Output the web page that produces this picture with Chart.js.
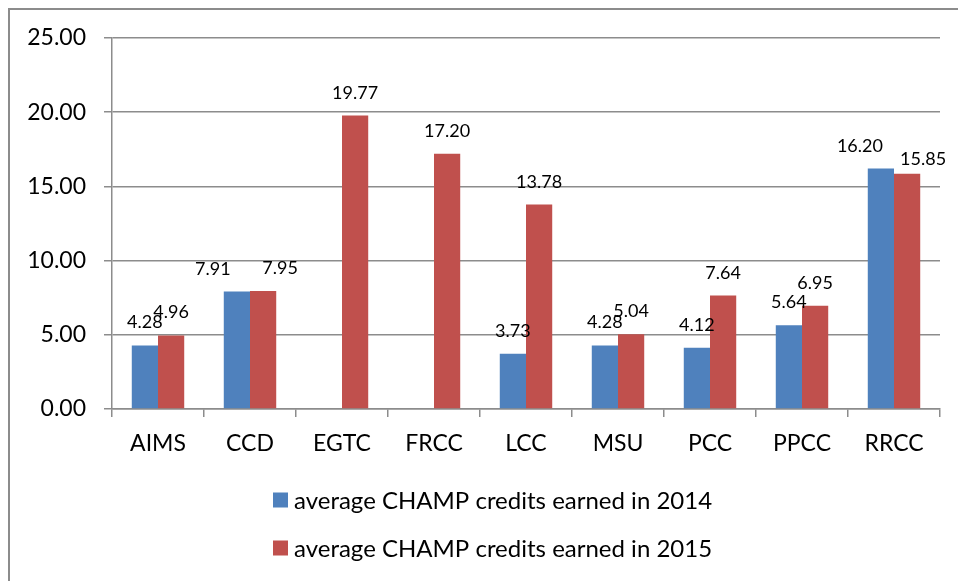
<!DOCTYPE html>
<html>
<head>
<meta charset="utf-8">
<script src="https://cdn.jsdelivr.net/npm/chart.js@4.4.0/dist/chart.umd.min.js"></script>
<style>
  body { margin: 0; background: #fff; }
  #wrap { width: 958px; height: 581px; }
</style>
</head>
<body>
<div id="wrap"><canvas id="credits" width="958" height="581"></canvas></div>
<script>
// colleges on the x axis
const colleges = ['AIMS', 'CCD', 'EGTC', 'FRCC', 'LCC', 'MSU', 'PCC', 'PPCC', 'RRCC'];
// average credits per year (null = no bar)
const credits2014 = [4.28, 7.91, null, null, 3.73, 4.28, 4.12, 5.64, 16.20];
const credits2015 = [4.96, 7.95, 19.77, 17.20, 13.78, 5.04, 7.64, 6.95, 15.85];
const seriesNames = ['average CHAMP credits earned in 2014', 'average CHAMP credits earned in 2015'];
const yTicks = [0, 5, 10, 15, 20, 25];

const fontName = 'Lato, "Open Sans", sans-serif';
const gray = '#8c8c8c';

// a few labels were dragged aside in the original, "dataset:index" -> [dx, dy]
const labelNudge = { '0:1': [-24, 0], '1:1': [17, 0], '0:8': [-21, 0], '1:8': [16, 8] };

// value labels above each bar
const valueLabels = {
  id: 'valueLabels',
  afterDatasetsDraw(chart) {
    const ctx = chart.ctx;
    ctx.save();
    ctx.font = '18px ' + fontName;
    ctx.fillStyle = '#000';
    ctx.textAlign = 'center';
    ctx.textBaseline = 'alphabetic';
    chart.data.datasets.forEach((ds, i) => {
      chart.getDatasetMeta(i).data.forEach((bar, j) => {
        const v = ds.data[j];
        if (v === null) return;
        const [dx, dy] = labelNudge[i + ':' + j] || [0, 0];
        ctx.fillText(v.toFixed(2), bar.x + dx, bar.y - 17 + dy);
      });
    });
    ctx.restore();
  }
};

// stacked legend below the axis + frame on left/top
const stackedLegend = {
  id: 'stackedLegend',
  afterDraw(chart) {
    const ctx = chart.ctx;
    ctx.save();
    ctx.strokeStyle = gray;
    ctx.lineWidth = 2;
    ctx.beginPath();
    ctx.moveTo(9, 581);
    ctx.lineTo(9, 9);
    ctx.lineTo(958, 9);
    ctx.stroke();

    ctx.font = '24px ' + fontName;
    ctx.textBaseline = 'middle';
    ctx.textAlign = 'left';
    const widths = chart.data.datasets.map(ds => ctx.measureText(ds.label).width);
    const blockW = 21 + Math.max(...widths);
    const left = Math.round(493 - blockW / 2);
    chart.data.datasets.forEach((ds, i) => {
      const cy = 500 + i * 48;
      ctx.fillStyle = ds.backgroundColor;
      ctx.fillRect(left, cy - 7.5, 15, 15);
      ctx.fillStyle = '#000';
      ctx.fillText(ds.label, left + 21, cy + 1);
    });
    ctx.restore();
  }
};

new Chart(document.getElementById('credits'), {
  type: 'bar',
  data: {
    labels: colleges,
    datasets: [
      { label: seriesNames[0], data: credits2014, backgroundColor: '#4F81BD' },
      { label: seriesNames[1], data: credits2015, backgroundColor: '#C0504D' }
    ]
  },
  options: {
    responsive: false,
    animation: false,
    layout: { padding: { left: 0, top: 38, right: 18, bottom: 112 } },
    datasets: { bar: { categoryPercentage: 0.57, barPercentage: 1.0 } },
    plugins: {
      legend: { display: false },
      tooltip: { enabled: false }
    },
    scales: {
      x: {
        afterFit(scale) { scale.height = 60; },
        grid: { display: true, drawOnChartArea: false, drawTicks: true, tickLength: 8, color: gray, lineWidth: 1.5, offset: true },
        border: { display: true, color: gray, width: 1.5 },
        ticks: { color: '#000', font: { family: fontName, size: 23 }, padding: 13, maxRotation: 0 }
      },
      y: {
        min: 0,
        max: 25,
        afterFit(scale) { scale.width = 112; },
        afterBuildTicks(scale) { scale.ticks = yTicks.map(v => ({ value: v })); },
        grid: { color: gray, lineWidth: 1.5, tickLength: 8 },
        border: { display: true, color: gray, width: 1.5 },
        ticks: {
          color: '#000',
          font: { family: fontName, size: 23 },
          padding: 18,
          callback: v => Number(v).toFixed(2)
        }
      }
    }
  },
  plugins: [valueLabels, stackedLegend]
});
</script>
</body>
</html>
